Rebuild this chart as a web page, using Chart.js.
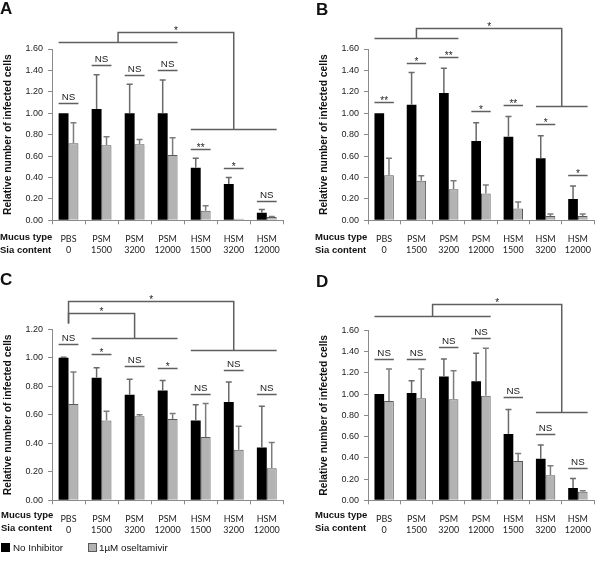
<!DOCTYPE html>
<html>
<head>
<meta charset="utf-8">
<script src="https://cdn.jsdelivr.net/npm/chart.js@4"></script>
<style>
  body { margin: 0; background: #fff; }
  #fig { position: relative; width: 600px; height: 565px; background: #fff; font-family: "Liberation Sans", Arial, sans-serif; color: #111; }
  #fig canvas { position: absolute; }
  .letter { position: absolute; font-weight: bold; font-size: 17px; line-height: 17px; }
  .rowhead { position: absolute; font-weight: bold; font-size: 9.5px; line-height: 12.5px; white-space: nowrap; }
  .legend { position: absolute; left: 0; top: 541px; font-size: 9.8px; line-height: 13px; white-space: nowrap; }
  .legend span.box { position: absolute; top: 2px; width: 9px; height: 9px; box-sizing: border-box; }
  .legend span.txt { position: absolute; top: 0; }
</style>
</head>
<body>
<div id="fig">
  <canvas id="chartA" width="300" height="270" style="left:0;top:0"></canvas>
  <canvas id="chartB" width="300" height="270" style="left:300px;top:0"></canvas>
  <canvas id="chartC" width="300" height="270" style="left:0;top:270px"></canvas>
  <canvas id="chartD" width="300" height="270" style="left:300px;top:270px"></canvas>

  <div class="letter" style="left:0;top:0">A</div>
  <div class="letter" style="left:316px;top:1px">B</div>
  <div class="letter" style="left:0;top:271px">C</div>
  <div class="letter" style="left:316px;top:273px">D</div>

  <div class="rowhead" style="left:0;top:231px">Mucus type<br>Sia content</div>
  <div class="rowhead" style="left:315px;top:231px">Mucus type<br>Sia content</div>
  <div class="rowhead" style="left:1px;top:509px">Mucus type<br>Sia content</div>
  <div class="rowhead" style="left:315px;top:509px">Mucus type<br>Sia content</div>

  <div class="legend">
    <span class="box" style="left:1px;background:#000"></span>
    <span class="txt" style="left:13px">No Inhibitor</span>
    <span class="box" style="left:88px;background:#b3b3b3;border:1px solid #595959"></span>
    <span class="txt" style="left:99px">1µM oseltamivir</span>
  </div>
</div>

<script>
// categories
const mucusType = ["PBS", "PSM", "PSM", "PSM", "HSM", "HSM", "HSM"];
const siaContent = ["0", "1500", "3200", "12000", "1500", "3200", "12000"];

// panel A
const noInhA = [1.00, 1.04, 1.00, 1.00, 0.49, 0.34, 0.07];
const noInhSdA = [0, 0.32, 0.27, 0.31, 0.09, 0.06, 0.03];
const oselA = [0.72, 0.70, 0.71, 0.61, 0.09, 0.015, 0.03];
const oselSdA = [0.19, 0.08, 0.045, 0.16, 0.045, 0, 0.006];
const sigTextA = ["NS", "NS", "NS", "NS", "**", "*", "NS"];
const sigLevelA = [1.10, 1.45, 1.36, 1.40, 0.67, 0.49, 0.18];

// panel B
const noInhB = [1.00, 1.08, 1.19, 0.74, 0.78, 0.58, 0.20];
const noInhSdB = [0, 0.30, 0.23, 0.17, 0.19, 0.21, 0.12];
const oselB = [0.42, 0.37, 0.29, 0.25, 0.11, 0.04, 0.04];
const oselSdB = [0.16, 0.045, 0.08, 0.08, 0.06, 0.02, 0.02];
const sigTextB = ["**", "*", "**", "*", "**", "*", "*"];
const sigLevelB = [1.105, 1.47, 1.525, 1.025, 1.075, 0.895, 0.42];

// panel C
const noInhC = [1.00, 0.86, 0.74, 0.77, 0.56, 0.69, 0.37];
const noInhSdC = [0.003, 0.07, 0.11, 0.07, 0.11, 0.14, 0.29];
const oselC = [0.675, 0.56, 0.59, 0.57, 0.445, 0.355, 0.225];
const oselSdC = [0.225, 0.065, 0.01, 0.04, 0.235, 0.165, 0.18];
const sigTextC = ["NS", "*", "NS", "*", "NS", "NS", "NS"];
const sigLevelC = [1.095, 1.025, 0.94, 0.925, 0.745, 0.915, 0.745];

// panel D
const noInhD = [1.00, 1.01, 1.165, 1.12, 0.625, 0.39, 0.115];
const noInhSdD = [0, 0.115, 0.165, 0.265, 0.23, 0.13, 0.09];
const oselD = [0.935, 0.96, 0.95, 0.985, 0.37, 0.235, 0.08];
const oselSdD = [0.30, 0.275, 0.27, 0.445, 0.07, 0.09, 0.01];
const sigTextD = ["NS", "NS", "NS", "NS", "NS", "NS", "NS"];
const sigLevelD = [1.333, 1.333, 1.44, 1.525, 0.97, 0.62, 0.307];

// group comparisons (category ranges and heights in data units)
const bracketsA = [{ a: [0, 3], b: [4, 6], ya: 1.663, yb: 0.853, top: 1.762 }];
const bracketsB = [{ a: [0, 2], b: [5, 6], ya: 1.70, yb: 1.07, top: 1.80 }];
const bracketsC = [
  { a: [0, 0], b: [1, 3], ya: 1.242, yb: 1.141, top: 1.316, noBaseA: true },
  { a: [0, 0], b: [4, 6], ya: 1.242, yb: 1.055, top: 1.40, noBaseA: true },
];
const bracketsD = [{ a: [0, 3], b: [5, 6], ya: 1.737, yb: 0.834, top: 1.845 }];

const labels = mucusType.map((m, i) => [m, siaContent[i]]);
const axisGray = "#8a8a8a";
const lineGray = "#5f5f5f";

const errorBars = {
  id: "errorBars",
  afterDatasetsDraw(chart) {
    const { ctx } = chart;
    const y = chart.scales.y;
    chart.data.datasets.forEach((ds, i) => {
      chart.getDatasetMeta(i).data.forEach((bar, j) => {
        const sd = ds.errors[j];
        if (!sd) return;
        const top = y.getPixelForValue(ds.data[j] + sd);
        ctx.save();
        ctx.strokeStyle = ds.errColor;
        ctx.lineWidth = 1.5;
        ctx.beginPath();
        ctx.moveTo(bar.x, bar.y);
        ctx.lineTo(bar.x, top);
        ctx.moveTo(bar.x - 3, top);
        ctx.lineTo(bar.x + 3, top);
        ctx.stroke();
        ctx.restore();
      });
    });
  },
};

function makeSigPlugin(texts, levels, brackets) {
  return {
    id: "sig",
    afterDraw(chart) {
      const { ctx } = chart;
      const y = chart.scales.y;
      const m0 = chart.getDatasetMeta(0).data;
      const m1 = chart.getDatasetMeta(1).data;
      const left = (j) => m0[j].x - m0[j].width / 2;
      const right = (j) => m1[j].x + m1[j].width / 2;
      const center = (j) => (left(j) + right(j)) / 2;

      ctx.save();
      ctx.strokeStyle = lineGray;
      ctx.lineWidth = 1.5;
      ctx.fillStyle = "#222";
      ctx.textAlign = "center";
      ctx.textBaseline = "alphabetic";

      // per-category comparisons
      texts.forEach((t, j) => {
        const ly = Math.round(y.getPixelForValue(levels[j])) + 0.5;
        ctx.beginPath();
        ctx.moveTo(left(j), ly);
        ctx.lineTo(right(j), ly);
        ctx.stroke();
        if (t === "NS") {
          ctx.font = "9.8px 'Liberation Sans', Arial, sans-serif";
          ctx.fillText(t, center(j), ly - 3.5);
        } else {
          ctx.font = "10px 'Liberation Sans', Arial, sans-serif";
          ctx.fillText(t, center(j), ly + 1);
        }
      });

      // group comparisons
      brackets.forEach((b) => {
        const xa = (left(b.a[0]) + right(b.a[1])) / 2;
        const xb = (left(b.b[0]) + right(b.b[1])) / 2;
        const ya = Math.round(y.getPixelForValue(b.ya)) + 0.5;
        const yb = Math.round(y.getPixelForValue(b.yb)) + 0.5;
        const yt = Math.round(y.getPixelForValue(b.top)) + 0.5;
        ctx.beginPath();
        if (!b.noBaseA) {
          ctx.moveTo(left(b.a[0]), ya);
          ctx.lineTo(right(b.a[1]), ya);
        }
        ctx.moveTo(left(b.b[0]), yb);
        ctx.lineTo(right(b.b[1]), yb);
        ctx.moveTo(xa, ya);
        ctx.lineTo(xa, yt);
        ctx.lineTo(xb, yt);
        ctx.lineTo(xb, yb);
        ctx.stroke();
        ctx.font = "10px 'Liberation Sans', Arial, sans-serif";
        ctx.fillText("*", (xa + xb) / 2, yt + 1);
      });
      ctx.restore();
    },
  };
}

function makePanel(id, p) {
  new Chart(document.getElementById(id), {
    type: "bar",
    data: {
      labels: labels,
      datasets: [
        {
          label: "No Inhibitor",
          data: p.noInh,
          errors: p.noInhSd,
          errColor: "#6a6a6a",
          backgroundColor: "#000",
          borderWidth: 0,
        },
        {
          label: "1µM oseltamivir",
          data: p.osel,
          errors: p.oselSd,
          errColor: "#7c7c7c",
          backgroundColor: "#b3b3b3",
          borderColor: "#595959",
          borderWidth: 1,
        },
      ],
    },
    options: {
      responsive: false,
      animation: false,
      events: [],
      layout: { padding: { left: p.padLeft, top: p.top, right: p.right, bottom: 0 } },
      datasets: { bar: { barPercentage: 1, categoryPercentage: 0.6 } },
      plugins: { legend: { display: false }, tooltip: { enabled: false } },
      scales: {
        x: {
          grid: { display: true, drawOnChartArea: false, tickLength: 4, color: axisGray, offset: true },
          border: { color: axisGray, width: 1 },
          ticks: {
            autoSkip: false,
            maxRotation: 0,
            padding: 9,
            color: "#222",
            font: { family: "Lato", size: 9, lineHeight: "11px" },
          },
          afterFit: (s) => { s.height = p.xh; },
        },
        y: {
          min: 0,
          max: p.ymax,
          grid: { display: true, drawOnChartArea: false, tickLength: 4, color: axisGray },
          border: { color: axisGray, width: 1 },
          ticks: {
            stepSize: 0.2,
            padding: 5,
            color: "#222",
            font: { family: "Liberation Sans", size: 9 },
            callback: (v) => v.toFixed(2),
          },
          title: {
            display: true,
            text: "Relative number of infected cells",
            color: "#111",
            font: { family: "Liberation Sans", size: 10.3, weight: "bold" },
            padding: { top: 2, bottom: 0 },
          },
          afterFit: (s) => { s.width = 52; },
        },
      },
    },
    plugins: [errorBars, makeSigPlugin(p.sigText, p.sigLevel, p.brackets)],
  });
}

makePanel("chartA", {
  noInh: noInhA, noInhSd: noInhSdA, osel: oselA, oselSd: oselSdA,
  sigText: sigTextA, sigLevel: sigLevelA, brackets: bracketsA,
  ymax: 1.6, padLeft: 0, right: 16.7, top: 49, xh: 49.7,
});
makePanel("chartB", {
  noInh: noInhB, noInhSd: noInhSdB, osel: oselB, oselSd: oselSdB,
  sigText: sigTextB, sigLevel: sigLevelB, brackets: bracketsB,
  ymax: 1.6, padLeft: 16, right: 1, top: 49, xh: 49.7,
});
makePanel("chartC", {
  noInh: noInhC, noInhSd: noInhSdC, osel: oselC, oselSd: oselSdC,
  sigText: sigTextC, sigLevel: sigLevelC, brackets: bracketsC,
  ymax: 1.2, padLeft: 0, right: 16.7, top: 59.3, xh: 39.7,
});
makePanel("chartD", {
  noInh: noInhD, noInhSd: noInhSdD, osel: oselD, oselSd: oselSdD,
  sigText: sigTextD, sigLevel: sigLevelD, brackets: bracketsD,
  ymax: 1.6, padLeft: 16, right: 1, top: 60.3, xh: 39.7,
});
</script>
</body>
</html>
